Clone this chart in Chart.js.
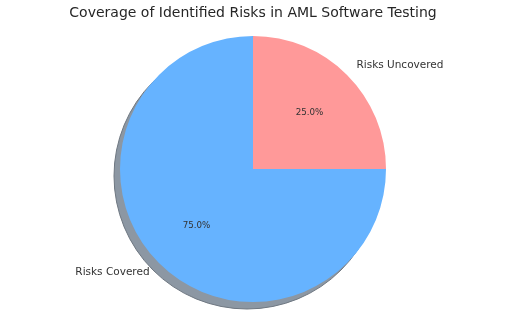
<!DOCTYPE html>
<html>
<head>
<meta charset="utf-8">
<script src="https://cdn.jsdelivr.net/npm/chart.js@4/dist/chart.umd.min.js"></script>
<style>
html,body{margin:0;padding:0;background:#fff;}
#wrap{width:505px;height:322px;position:relative;}
</style>
</head>
<body>
<div id="wrap"><canvas id="c" width="505" height="322"></canvas></div>
<script>
const titleText = "Coverage of Identified Risks in AML Software Testing";
const categories = ["Risks Covered", "Risks Uncovered"];
const values = [75, 25];
const colors = ["#66b3ff", "#ff9999"];

const FONT = "'DejaVu Sans', sans-serif";

const decor = {
  id: 'decor',
  beforeDatasetsDraw(chart) {
    const ctx = chart.ctx;
    const arc = chart.getDatasetMeta(0).data[0];
    if (!arc) return;
    const r = arc.outerRadius;
    ctx.save();
    ctx.beginPath();
    ctx.arc(arc.x - 6, arc.y + 7, r, 0, Math.PI * 2);
    ctx.fillStyle = '#8c97a3';
    ctx.fill();
    ctx.lineWidth = 1;
    ctx.strokeStyle = '#6e7781';
    ctx.stroke();
    ctx.restore();
  },
  afterDatasetsDraw(chart) {
    const ctx = chart.ctx;
    const meta = chart.getDatasetMeta(0);
    const total = values.reduce((a, b) => a + b, 0);
    ctx.save();
    ctx.fillStyle = '#333';
    ctx.textBaseline = 'middle';
    meta.data.forEach((arc, i) => {
      const mid = (arc.startAngle + arc.endAngle) / 2;
      const r = arc.outerRadius;
      const cx = Math.cos(mid), cy = Math.sin(mid);
      ctx.font = '10.5px ' + FONT;
      ctx.textAlign = cx >= 0 ? 'left' : 'right';
      ctx.fillText(categories[i], arc.x + cx * r * 1.1, arc.y + cy * r * 1.1);
      ctx.font = '8.7px ' + FONT;
      ctx.textAlign = 'center';
      ctx.fillText((values[i] / total * 100).toFixed(1) + '%', arc.x + cx * r * 0.6, arc.y + cy * r * 0.6);
    });
    ctx.font = '14px ' + FONT;
    ctx.textAlign = 'center';
    ctx.fillStyle = '#262626';
    ctx.fillText(titleText, 253, 13);
    ctx.restore();
  }
};

new Chart(document.getElementById('c'), {
  type: 'pie',
  data: {
    labels: categories,
    datasets: [{
      data: values,
      backgroundColor: colors,
      borderWidth: 0,
      hoverOffset: 0
    }]
  },
  options: {
    responsive: false,
    animation: false,
    rotation: 90,
    layout: { padding: { top: 36, bottom: 20, left: 120, right: 119 } },
    plugins: {
      legend: { display: false },
      tooltip: { enabled: false },
      title: { display: false }
    }
  },
  plugins: [decor]
});
</script>
</body>
</html>
